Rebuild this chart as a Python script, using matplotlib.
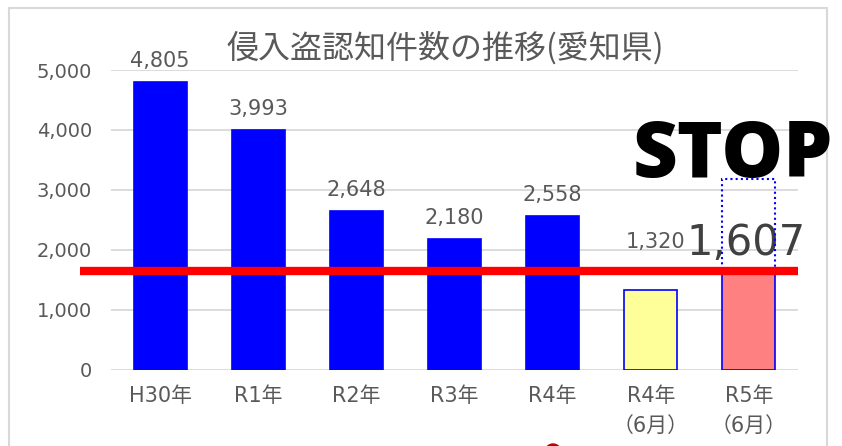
import matplotlib
matplotlib.use("Agg")
import matplotlib.pyplot as plt
from matplotlib.patches import Rectangle, Circle

plt.rcParams['font.family'] = ['DejaVu Sans', 'Noto Sans CJK JP']

categories = ["H30年", "R1年", "R2年", "R3年", "R4年", "R4年\n（6月）", "R5年\n（6月）"]
values = [4805, 3993, 2648, 2180, 2558, 1320, 1607]
labels = ["4,805", "3,993", "2,648", "2,180", "2,558", "1,320", "1,607"]
face_colors = ["#0000FF"] * 5 + ["#FFFF99", "#FF8080"]
yticks = [0, 1000, 2000, 3000, 4000, 5000]
ytick_labels = ["0", "1,000", "2,000", "3,000", "4,000", "5,000"]
red_line_value = 1640
stop_box_top = 3180
title = "侵入盗認知件数の推移(愛知県)"

W, H = 842, 446
fig = plt.figure(figsize=(W / 100, H / 100), dpi=100)
fig.patch.set_facecolor("white")

# outer frame
fig.add_artist(Rectangle((9 / W, -0.05), (827 - 9) / W, (H - 8) / H + 0.05,
                         transform=fig.transFigure, fill=False,
                         edgecolor="#d9d9d9", linewidth=1.5))

ax_left, ax_right = 111 / W, 798 / W
ax_bottom, ax_top = (H - 369.5) / H, (H - 70) / H
ax = fig.add_axes([ax_left, ax_bottom, ax_right - ax_left, ax_top - ax_bottom])

x = list(range(len(categories)))
bar_w = 0.54
ax.bar(x, values, width=bar_w, color=face_colors,
       edgecolor=["#0000FF"] * 7, linewidth=1.2, zorder=3)

ax.set_xlim(-0.5, len(categories) - 0.5)
ax.set_ylim(0, 5000)
ax.set_yticks(yticks)
ax.set_yticklabels(ytick_labels)
ax.set_xticks(x)
ax.set_xticklabels(categories, linespacing=1.6)
ax.tick_params(axis="y", length=0, pad=13.5, labelsize=14, labelcolor="#595959")
ax.tick_params(axis="x", length=0, pad=12, labelsize=15, labelcolor="#595959")
ax.grid(axis="y", color="#d9d9d9", linewidth=1.3, zorder=0)
ax.set_axisbelow(True)
for s in ax.spines.values():
    s.set_visible(False)

# value labels
for i in range(5):
    ax.annotate(labels[i], (x[i], values[i]), xytext=(0, 8), textcoords="offset points",
                ha="center", va="bottom", fontsize=15, color="#595959")
ax.text(x[5] + 0.35, (369.5 - 248) / 60 * 1000, labels[5], ha="right", va="baseline",
        fontsize=15, color="#595959")
ax.text(x[6] - 0.64, (369.5 - 255) / 60 * 1000, labels[6], ha="left", va="baseline",
        fontsize=30, color="#404040")

# dotted box
ax.add_patch(Rectangle((x[6] - bar_w / 2, red_line_value), bar_w,
                       stop_box_top - red_line_value, fill=False,
                       edgecolor="#0000FF", linestyle=(0, (1, 1.5)),
                       linewidth=1.5, zorder=4, clip_on=False))

# red line
ax.plot([-0.816, x[6] + 0.5], [red_line_value, red_line_value],
        color="#FF0000", linewidth=6, solid_capstyle="butt", zorder=5, clip_on=False)

# STOP text
fig.text(633 / W, (H - 177) / H, "STOP", ha="left", va="baseline",
         fontsize=56, fontweight="heavy", family=["Open Sans", "DejaVu Sans"],
         color="black")

# title
fig.text(445 / W, (H - 48) / H, title, ha="center", va="center",
         fontsize=23, color="#595959", family=["Noto Sans CJK JP", "DejaVu Sans"])

# red dot at bottom edge (partially visible)
fig.add_artist(Circle((5.53, (H - 452) / 100), 0.08, transform=fig.dpi_scale_trans,
                      color="#C00000"))

fig.savefig("out.png", dpi=100)
